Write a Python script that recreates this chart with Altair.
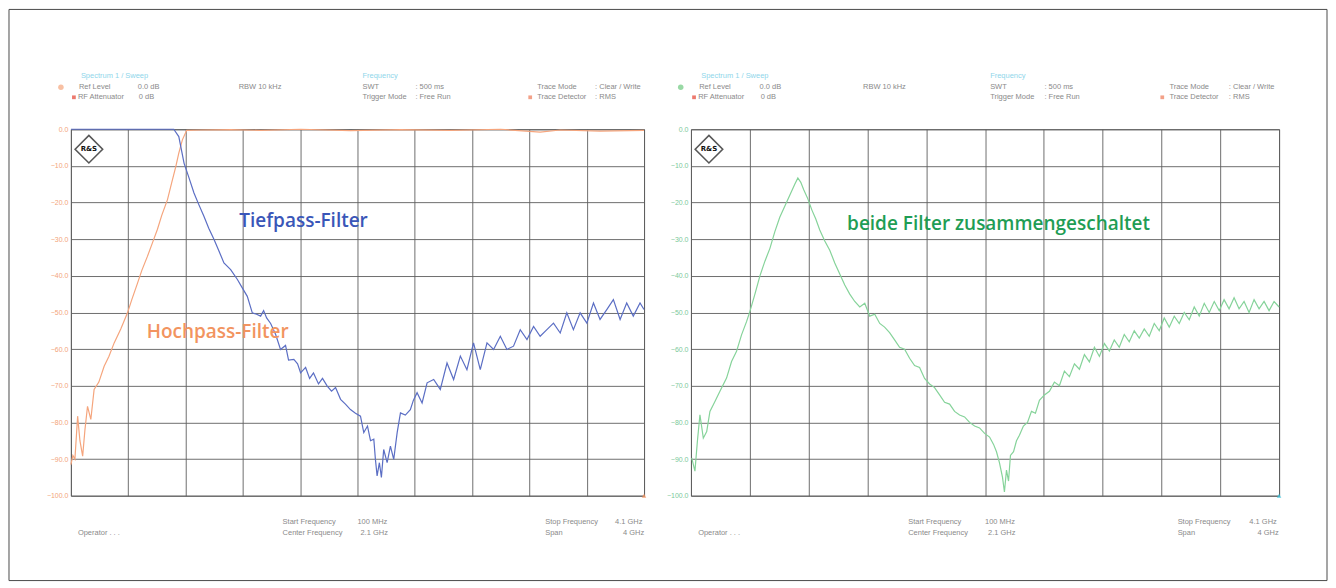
import altair as alt
import pandas as pd

# ---------------- data ----------------
FREQ_GRID_GHZ = [0.1, 0.5, 0.9, 1.3, 1.7, 2.1, 2.5, 2.9, 3.3, 3.7, 4.1]
LEVEL_TICKS_DB = [0, -10, -20, -30, -40, -50, -60, -70, -80, -90, -100]

HOCHPASS_GHZ = [0.100, 0.114, 0.128, 0.147, 0.163, 0.182, 0.198, 0.216, 0.239, 0.262,
                0.295, 0.332, 0.365, 0.402, 0.448, 0.495, 0.525, 0.565, 0.595, 0.634,
                0.669, 0.704, 0.734, 0.774, 0.804, 0.832, 0.853, 0.878, 0.908, 1.006,
                1.215, 1.424, 1.703, 2.051, 2.400, 2.748, 3.097, 3.375, 3.515, 3.793, 4.100]
HOCHPASS_DB = [-91.5, -89, -90, -78.3, -85, -89.2, -82, -75.6, -79.2, -71,
               -69, -64.7, -62, -58.3, -54.5, -50.1, -46.5, -42, -38.5, -34.7,
               -31, -27.3, -23.5, -19.2, -14.5, -10.2, -6.5, -2.9, -0.3, -0.2,
               -0.1, -0.3, 0, -0.4, -0.1, -0.3, 0, -0.8, -0.2, -0.5, -0.3]

TIEFPASS_GHZ = [0.100, 0.818, 0.853, 0.890, 0.922, 0.959, 0.992, 1.029, 1.062, 1.099,
                1.131, 1.168, 1.215, 1.262, 1.292, 1.331, 1.366, 1.396, 1.424, 1.445,
                1.466, 1.494, 1.529, 1.563, 1.598, 1.619, 1.656, 1.682, 1.703, 1.738,
                1.766, 1.793, 1.828, 1.856, 1.889, 1.919, 1.947, 1.982, 2.016, 2.051,
                2.086, 2.121, 2.144, 2.170, 2.191, 2.214, 2.225, 2.237, 2.253, 2.267,
                2.283, 2.307, 2.330, 2.353, 2.377, 2.400, 2.434, 2.469, 2.490, 2.516,
                2.551, 2.586, 2.632, 2.678, 2.725, 2.771, 2.818, 2.864, 2.910, 2.957,
                3.004, 3.050, 3.097, 3.143, 3.189, 3.236, 3.283, 3.329, 3.375, 3.422,
                3.468, 3.515, 3.561, 3.607, 3.654, 3.701, 3.747, 3.793, 3.840, 3.886,
                3.933, 3.979, 4.025, 4.072, 4.100]
TIEFPASS_DB = [0, 0, -2, -9.3, -13, -17.4, -20.5, -23.8, -27, -30.1,
               -33, -36.5, -38.3, -41.0, -43, -45.6, -50.1, -50.5, -51, -49.5,
               -51.5, -53, -56, -60.1, -59, -63, -62.8, -64, -66.5, -65,
               -68, -66.5, -69.5, -68, -70.1, -71.5, -70.5, -73.7, -75, -76.5,
               -77.5, -78.3, -82.8, -81, -85, -84.6, -90, -94.6, -91, -95,
               -87.4, -91, -86.5, -90.1, -82.8, -77.4, -78, -76.5, -74, -71.9,
               -74.7, -69.2, -68.3, -71, -63.8, -68.3, -61.9, -65.6, -58.3, -65.6,
               -58.3, -60.1, -56.5, -60.1, -59.2, -54.7, -57.4, -53.8, -56.5, -54.7,
               -52.9, -55.6, -50.1, -54.7, -50.1, -52.9, -47.4, -51.9, -49.2, -46.5,
               -51.9, -47.4, -51, -47.4, -49.2]

BEIDE = [
    (0.105, -89.7), (0.127, -93.3), (0.144, -85), (0.161, -77.9), (0.184, -84.3),
    (0.207, -82.5), (0.229, -77), (0.263, -74.3), (0.297, -71.5), (0.342, -67.9),
    (0.376, -63.4), (0.410, -60.6), (0.444, -56.1), (0.478, -52.5), (0.501, -49.7),
    (0.535, -45), (0.569, -40), (0.603, -36), (0.637, -32.5), (0.670, -28),
    (0.704, -24), (0.738, -21), (0.772, -18), (0.806, -15), (0.827, -13.3),
    (0.847, -14.5), (0.867, -16.5), (0.895, -19), (0.922, -22), (0.949, -24.5),
    (0.976, -27.5), (1.010, -30.5), (1.044, -33), (1.078, -36.5), (1.112, -39.5),
    (1.146, -42.5), (1.180, -45), (1.214, -47), (1.248, -48.5), (1.282, -47.5),
    (1.316, -51), (1.350, -50.5), (1.384, -53), (1.417, -54), (1.451, -55.5),
    (1.485, -57.5), (1.519, -59.5), (1.553, -60), (1.587, -62.5), (1.621, -64.5),
    (1.655, -65), (1.689, -68), (1.723, -69.5), (1.757, -70.5), (1.791, -72.5),
    (1.825, -74.5), (1.859, -75), (1.893, -77), (1.927, -78), (1.961, -78.5),
    (1.995, -80), (2.029, -81), (2.063, -81.5), (2.097, -83), (2.131, -84),
    (2.158, -86), (2.178, -88), (2.198, -91), (2.219, -95), (2.232, -99),
    (2.246, -93), (2.260, -96), (2.273, -89), (2.294, -88), (2.314, -85),
    (2.334, -83.5), (2.361, -81), (2.389, -80), (2.416, -77), (2.443, -77.5),
    (2.470, -74), (2.504, -72.5), (2.538, -71.5), (2.572, -69), (2.606, -70),
    (2.640, -66), (2.674, -67.5), (2.708, -64), (2.742, -65.5), (2.776, -61.5),
    (2.810, -63.5), (2.844, -59.5), (2.878, -62), (2.912, -58.5), (2.946, -60.5),
    (2.979, -57.5), (3.013, -59.5), (3.047, -56), (3.081, -58), (3.115, -55),
    (3.149, -57), (3.183, -54.5), (3.217, -56.5), (3.251, -53), (3.285, -55),
    (3.319, -51.5), (3.353, -54), (3.387, -51), (3.421, -53), (3.455, -50),
    (3.489, -52), (3.523, -48.5), (3.557, -51), (3.591, -47.5), (3.625, -50),
    (3.659, -47), (3.693, -49.5), (3.726, -46.5), (3.760, -49), (3.794, -46),
    (3.828, -49), (3.862, -47), (3.896, -50), (3.930, -46.5), (3.964, -49),
    (3.998, -47), (4.032, -49.5), (4.066, -47), (4.100, -48.5),
]
BEIDE_GHZ = [p[0] for p in BEIDE]
BEIDE_DB = [p[1] for p in BEIDE]

# ---------------- styles / layout ----------------
W_LEFT, W_RIGHT, H = 574, 589, 367
GRID_COLOR = "#5f5f5f"
ORANGE, BLUE, GREEN = "#f5a57d", "#5b6ec4", "#86d39a"
INFO = "#8a8a8a"
CYAN = "#8fd6ea"
FONT_SMALL = "Liberation Sans"

HEADER = [  # text, x offset, y offset, colour
    ("Spectrum 1 / Sweep", 10, -53, CYAN),
    ("Ref Level", 8, -42, INFO), ("0.0 dB", 67, -42, INFO),
    ("RF Attenuator", 7, -32, INFO), ("0   dB", 68, -32, INFO),
    ("RBW   10 kHz", 168, -42, INFO),
    ("Frequency", 292, -53, CYAN),
    ("SWT", 292, -42, INFO), (": 500 ms", 345, -42, INFO),
    ("Trigger Mode", 292, -32, INFO), (": Free Run", 345, -32, INFO),
    ("Trace Mode", 467, -42, INFO), (": Clear / Write", 525, -42, INFO),
    ("Trace Detector", 467, -32, INFO), (": RMS", 525, -32, INFO),
    ("Operator  . . .", 7, 404, INFO),
    ("Start Frequency", 212, 393, INFO), ("100   MHz", 287, 393, INFO),
    ("Center Frequency", 212, 404, INFO), ("2.1 GHz", 290, 404, INFO),
    ("Stop Frequency", 475, 393, INFO), ("4.1 GHz", 545, 393, INFO),
    ("Span", 475, 404, INFO), ("4   GHz", 553, 404, INFO),
]

one = pd.DataFrame({"k": [0]})


def trace(ghz, db, color, label_color):
    df = pd.DataFrame({"f": ghz, "db": db})
    x_axis = alt.Axis(values=FREQ_GRID_GHZ, labels=False, ticks=False, domain=False,
                      grid=True, gridColor=GRID_COLOR, gridWidth=1, gridOpacity=0.9,
                      title=None)
    y_axis = alt.Axis(values=LEVEL_TICKS_DB, format=".1f", ticks=False,
                      domain=False, grid=True, gridColor=GRID_COLOR,
                      gridWidth=1, gridOpacity=0.9, title=None,
                      labelFont=FONT_SMALL, labelFontSize=7,
                      labelColor=label_color, labelPadding=3, labelFlush=False)
    return alt.Chart(df).mark_line(color=color, strokeWidth=1.2, clip=False).encode(
        x=alt.X("f:Q", scale=alt.Scale(domain=[0.1, 4.1], nice=False, zero=False),
                axis=x_axis),
        y=alt.Y("db:Q", scale=alt.Scale(domain=[-100, 0], nice=False, zero=False),
                axis=y_axis),
    )


def text_at(t, x, y, color, size=7.5, font=FONT_SMALL, weight="normal", align="left"):
    return alt.Chart(one).mark_text(align=align, baseline="middle", font=font,
                                    fontSize=size, fontWeight=weight, color=color).encode(
        x=alt.value(x), y=alt.value(y), text=alt.value(t))


def dot(x, y, color, shape="circle", size=30):
    return alt.Chart(one).mark_point(shape=shape, filled=True, color=color,
                                     size=size, opacity=0.8).encode(
        x=alt.value(x), y=alt.value(y))


def decorations(sx, width, dot_color, corner_color):
    layers = [text_at(t, x * sx, y, c) for (t, x, y, c) in HEADER]
    layers += [dot(-10 * sx, -42, dot_color), dot(3 * sx, -32, "#e8584a", "square", 14),
               dot(460 * sx, -32, "#f08a6a", "square", 14),
               dot(width, H, corner_color, "triangle-up", 20)]
    # R&S logo
    layers.append(alt.Chart(one).mark_point(shape="diamond", filled=False, color="#111",
                                            strokeWidth=1.6, size=760).encode(
        x=alt.value(18), y=alt.value(20)))
    layers.append(text_at("R&S", 18, 20, "#111", size=7, font="DejaVu Sans",
                          weight="bold", align="center"))
    return layers


frame = alt.Chart(one).mark_rect(fill="transparent", stroke="#4a4a4a",
                                 strokeWidth=1).encode(
    x=alt.value(-62), x2=alt.value(1258), y=alt.value(-120), y2=alt.value(452))

left = alt.layer(
    trace(HOCHPASS_GHZ, HOCHPASS_DB, ORANGE, "#f3a47b"),
    trace(TIEFPASS_GHZ, TIEFPASS_DB, BLUE, "#f3a47b"),
    frame,
    text_at("Tiefpass-Filter", 233, 92, "#3a56b8", size=19, font="Open Sans",
            weight=600, align="center"),
    text_at("Hochpass-Filter", 147, 203, "#f29460", size=19, font="Open Sans",
            weight=600, align="center"),
    *decorations(1.0, W_LEFT, "#f6b08c", "#f29460"),
).properties(width=W_LEFT, height=H)

right = alt.layer(
    trace(BEIDE_GHZ, BEIDE_DB, GREEN, "#7cc99a"),
    text_at("beide Filter zusammengeschaltet", 308, 95, "#1f9d55", size=19,
            font="Open Sans", weight=600, align="center"),
    *decorations(W_RIGHT / W_LEFT, W_RIGHT, "#7fd08f", "#3cc0d8"),
).properties(width=W_RIGHT, height=H)

chart = alt.hconcat(left, right, spacing=47, bounds="flush").properties(
    padding=0, background="white"
).configure_view(stroke=GRID_COLOR, strokeWidth=1)

chart.save("out.html", embed_options={"renderer": "svg", "actions": False})
